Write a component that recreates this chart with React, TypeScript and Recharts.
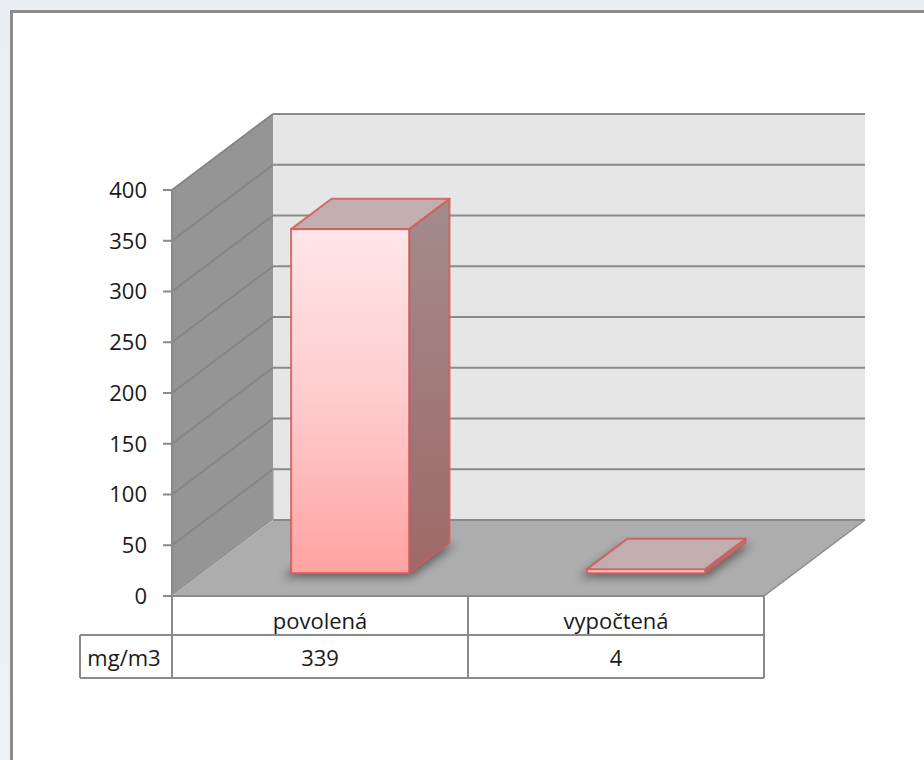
import React from 'react';
import { BarChart, Bar, XAxis, YAxis, ReferenceArea } from 'recharts';

// values
const categories = ['povolená', 'vypočtená'];
const values = [339, 4];
const rowLabel = 'mg/m3';
const yTicks = [0, 50, 100, 150, 200, 250, 300, 350, 400];

// depth of the 3d box (screen offset of back wall from the front plane)
const DX = 101;
const DY = -76;
const NEAR = 0.3;
const FAR = 0.7;
const FONT = '"Open Sans", sans-serif';
const LINE = '#8a8a8a';

const data = categories.map((name, i) => ({ name, value: values[i] }));

const pts = (arr: number[][]) => arr.map((p) => p.join(',')).join(' ');

const WallBand = (props: any) => {
  const { x, y, width, height, floor } = props;
  const b = y + height;
  return (
    <g>
      <rect x={x + DX} y={y + DY} width={width} height={height} fill="#e6e6e6" />
      <polygon
        points={pts([[x, y], [x + DX, y + DY], [x + DX, b + DY], [x, b]])}
        fill="#959595"
      />
      <line x1={x + DX} y1={y + DY} x2={x + DX + width} y2={y + DY} stroke={LINE} strokeWidth={2} />
      <line x1={x} y1={y} x2={x + DX} y2={y + DY} stroke="#858585" strokeWidth={2} />
      {floor && (
        <g>
          <polygon
            points={pts([[x, b], [x + DX, b + DY], [x + width + DX, b + DY], [x + width, b]])}
            fill="#adadad"
          />
          <line x1={x + DX} y1={b + DY} x2={x + DX + width} y2={b + DY} stroke={LINE} strokeWidth={2} />
          <line x1={x + width} y1={b} x2={x + width + DX} y2={b + DY} stroke={LINE} strokeWidth={1.5} />
          <line x1={x + DX} y1={y + DY} x2={x + DX} y2={b + DY} stroke="#9a9a9a" strokeWidth={1} />
        </g>
      )}
    </g>
  );
};

const Bar3D = (props: any) => {
  const { x, y, width, height } = props;
  if (width == null || height == null) return null;
  const fx = x + NEAR * DX;
  const fy = y + NEAR * DY;
  const ddx = (FAR - NEAR) * DX;
  const ddy = (FAR - NEAR) * DY;
  const w = width;
  const h = Math.max(height, 3);
  const top = fy + height - h;
  const bot = fy + height;
  return (
    <g>
      <defs>
        <linearGradient id="barFront" x1="0" y1="0" x2="0" y2="1">
          <stop offset="0%" stopColor="#ffe6e8" />
          <stop offset="50%" stopColor="#ffcbcd" />
          <stop offset="100%" stopColor="#ffa2a2" />
        </linearGradient>
        <linearGradient id="barSide" x1="0" y1="0" x2="0" y2="1">
          <stop offset="0%" stopColor="#a38c8c" />
          <stop offset="100%" stopColor="#9f6868" />
        </linearGradient>
        <filter id="barShadow" x="-30%" y="-30%" width="160%" height="160%">
          <feGaussianBlur stdDeviation="5" />
        </filter>
      </defs>
      <polygon
        points={pts([
          [fx - 8, bot + 4],
          [fx + ddx - 4, bot + ddy + 2],
          [fx + w + ddx + 6, bot + ddy + 2],
          [fx + w + 2, bot + 4],
        ])}
        fill="#000"
        opacity={0.45}
        filter="url(#barShadow)"
      />
      <polygon
        points={pts([[fx + w, top], [fx + w + ddx, top + ddy], [fx + w + ddx, bot + ddy], [fx + w, bot]])}
        fill="url(#barSide)"
        stroke="#d45a5a"
        strokeWidth={2}
        strokeLinejoin="round"
        strokeOpacity={0.85}
      />
      <rect
        x={fx}
        y={top}
        width={w}
        height={h}
        fill="url(#barFront)"
        stroke="#d45a5a"
        strokeWidth={2}
        strokeOpacity={0.85}
      />
      <polygon
        points={pts([[fx, top], [fx + ddx, top + ddy], [fx + w + ddx, top + ddy], [fx + w, top]])}
        fill="#c2aeae"
        stroke="#d45a5a"
        strokeWidth={2}
        strokeLinejoin="round"
        strokeOpacity={0.85}
      />
    </g>
  );
};

const TableColumn = (props: any) => {
  const { x, y, width, height, label, value, first } = props;
  const top = y + height;
  const mid = top + 39;
  const bot = top + 82;
  const cx = x + width / 2;
  const txt = { fontFamily: FONT, fontSize: 22, fill: '#1a1a1a', textAnchor: 'middle' as const };
  return (
    <g>
      <line x1={x} y1={top} x2={x + width} y2={top} stroke={LINE} strokeWidth={2} />
      <line x1={x} y1={mid} x2={x + width} y2={mid} stroke={LINE} strokeWidth={2} />
      <line x1={x} y1={bot} x2={x + width} y2={bot} stroke={LINE} strokeWidth={2} />
      <line x1={x} y1={top} x2={x} y2={bot} stroke={LINE} strokeWidth={2} />
      <line x1={x + width} y1={top} x2={x + width} y2={bot} stroke={LINE} strokeWidth={2} />
      <text x={cx} y={top + 33} {...txt}>{label}</text>
      <text x={cx} y={mid + 31} {...txt}>{value}</text>
      {first && (
        <g>
          <line x1={x - 92} y1={mid} x2={x} y2={mid} stroke={LINE} strokeWidth={2} />
          <line x1={x - 92} y1={bot} x2={x} y2={bot} stroke={LINE} strokeWidth={2} />
          <line x1={x - 92} y1={mid} x2={x - 92} y2={bot} stroke={LINE} strokeWidth={2} />
          <text x={x - 48} y={mid + 31} {...txt}>{rowLabel}</text>
        </g>
      )}
    </g>
  );
};

const bands = yTicks.slice(0, -1).map((v, i) => ({ from: v, to: yTicks[i + 1], index: i })).reverse();

export default function App() {
  return (
    <div
      style={{
        position: 'absolute',
        left: 0,
        top: 0,
        width: 924,
        height: 760,
        overflow: 'hidden',
        background: 'linear-gradient(180deg, #eaeef2 0%, #eef1f4 100%)',
      }}
    >
      <div
        style={{
          position: 'absolute',
          left: 10,
          top: 10,
          width: 930,
          height: 770,
          background: '#fff',
          borderLeft: '3px solid #8c8c8c',
          borderTop: '3px solid #8c8c8c',
        }}
      />
      <div style={{ position: 'absolute', left: 0, top: 0 }}>
        <BarChart
          width={924}
          height={760}
          data={data}
          margin={{ top: 190, right: 160, bottom: 164, left: 92 }}
          barCategoryGap="30%"
        >
          <XAxis dataKey="name" hide />
          <YAxis
            width={80}
            domain={[0, 400]}
            ticks={yTicks}
            interval={0}
            tickSize={9}
            tickMargin={16}
            axisLine={{ stroke: LINE, strokeWidth: 2 }}
            tickLine={{ stroke: LINE, strokeWidth: 2 }}
            tick={{ fontFamily: FONT, fontSize: 22, fill: '#1a1a1a' }}
          />
          {bands.map((b) => (
            <ReferenceArea
              key={`band-${b.from}`}
              y1={b.from}
              y2={b.to}
              ifOverflow="visible"
              shape={(p: any) => <WallBand {...p} floor={b.index === 0} />}
            />
          ))}
          {categories.map((c, i) => (
            <ReferenceArea
              key={`col-${c}`}
              x1={c}
              x2={c}
              ifOverflow="visible"
              shape={(p: any) => <TableColumn {...p} label={c} value={values[i]} first={i === 0} />}
            />
          ))}
          <Bar dataKey="value" isAnimationActive={false} shape={(p: any) => <Bar3D {...p} />} />
        </BarChart>
      </div>
    </div>
  );
}
